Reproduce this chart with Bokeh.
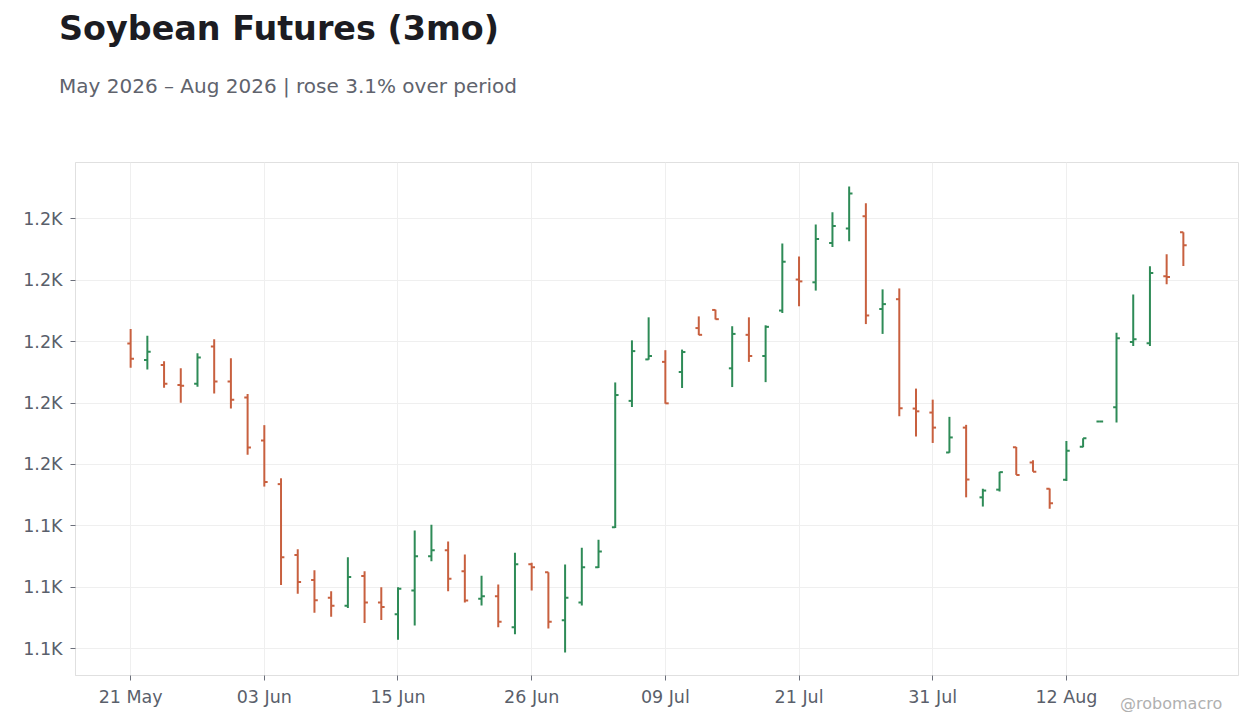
import pandas as pd
from bokeh.plotting import figure
from bokeh.models import ColumnDataSource, FixedTicker, CustomJSTickFormatter, Title
from bokeh.embed import file_html
from bokeh.resources import INLINE

"""daily soybean futures bars, read off the reference chart"""

dates = [
    "2026-05-21", "2026-05-22", "2026-05-26", "2026-05-27", "2026-05-28", "2026-05-29",
    "2026-06-01", "2026-06-02", "2026-06-03", "2026-06-04", "2026-06-05", "2026-06-08",
    "2026-06-09", "2026-06-10", "2026-06-11", "2026-06-12", "2026-06-15", "2026-06-16",
    "2026-06-17", "2026-06-18", "2026-06-22", "2026-06-23", "2026-06-24", "2026-06-25",
    "2026-06-26", "2026-06-29", "2026-06-30", "2026-07-01", "2026-07-02", "2026-07-06",
    "2026-07-07", "2026-07-08", "2026-07-09", "2026-07-10", "2026-07-13", "2026-07-14",
    "2026-07-15", "2026-07-16", "2026-07-17", "2026-07-20", "2026-07-21", "2026-07-22",
    "2026-07-23", "2026-07-24", "2026-07-27", "2026-07-28", "2026-07-29", "2026-07-30",
    "2026-07-31", "2026-08-03", "2026-08-04", "2026-08-05", "2026-08-06", "2026-08-07",
    "2026-08-10", "2026-08-11", "2026-08-12", "2026-08-13", "2026-08-14", "2026-08-17",
    "2026-08-18", "2026-08-19", "2026-08-20", "2026-08-21",
]

opens = [
    1199.4, 1194.0, 1192.4, 1185.9, 1186.3, 1198.4, 1187.0, 1181.8, 1167.8, 1153.6,
    1130.5, 1122.4, 1116.6, 1114.0, 1123.7, 1115.1, 1111.2, 1119.0, 1130.1, 1132.1,
    1125.2, 1116.3, 1117.1, 1107.0, 1127.5, 1124.9, 1109.3, 1115.1, 1126.5, 1139.6,
    1180.7, 1194.2, 1193.4, 1190.1, 1204.4, 1210.3, 1191.3, 1202.2, 1195.3, 1210.1,
    1220.2, 1219.3, 1232.1, 1236.8, 1240.8, 1210.6, 1213.8, 1178.2, 1176.9, 1163.9,
    1172.0, 1149.3, 1151.8, 1165.6, 1160.6, 1152.1, 1155.0, 1165.8, 1174.0, 1178.6,
    1199.9, 1199.5, 1221.3, 1235.6,
]
highs = [
    1204.1, 1201.9, 1193.6, 1191.3, 1196.2, 1200.8, 1194.6, 1182.9, 1172.8, 1155.5,
    1132.4, 1125.6, 1118.7, 1129.8, 1125.2, 1120.0, 1120.0, 1138.5, 1140.4, 1134.9,
    1130.7, 1123.8, 1120.9, 1131.3, 1128.0, 1124.9, 1127.4, 1132.9, 1135.5, 1186.7,
    1200.4, 1207.9, 1197.2, 1197.4, 1208.2, 1210.4, 1205.0, 1207.9, 1205.3, 1231.9,
    1227.7, 1238.1, 1242.1, 1250.5, 1245.0, 1217.0, 1217.3, 1184.7, 1181.1, 1175.5,
    1172.9, 1152.1, 1157.6, 1165.7, 1161.4, 1152.2, 1167.6, 1168.5, 1174.1, 1202.9,
    1215.3, 1224.5, 1228.4, 1235.6,
]
lows = [
    1191.5, 1190.9, 1185.0, 1180.1, 1185.3, 1183.1, 1178.2, 1163.2, 1152.8, 1120.8,
    1117.9, 1111.7, 1110.4, 1113.3, 1108.4, 1109.4, 1102.9, 1107.6, 1128.5, 1118.7,
    1115.1, 1114.1, 1107.0, 1104.7, 1119.0, 1106.6, 1098.8, 1114.1, 1126.3, 1139.3,
    1178.7, 1194.1, 1179.8, 1184.9, 1202.1, 1207.2, 1185.2, 1193.4, 1186.8, 1209.3,
    1211.5, 1216.6, 1230.8, 1232.7, 1205.7, 1202.5, 1175.7, 1169.1, 1167.0, 1163.8,
    1149.3, 1146.3, 1151.2, 1156.6, 1157.6, 1145.6, 1154.6, 1165.6, 1173.9, 1173.7,
    1198.6, 1198.6, 1218.7, 1224.6,
]
closes = [
    1194.4, 1196.7, 1186.3, 1185.6, 1194.8, 1187.0, 1181.1, 1165.5, 1154.3, 1129.8,
    1121.7, 1115.8, 1114.0, 1123.4, 1115.1, 1113.6, 1119.5, 1130.1, 1132.1, 1122.8,
    1115.7, 1117.1, 1108.8, 1127.5, 1126.5, 1108.8, 1116.6, 1126.5, 1131.7, 1182.6,
    1196.9, 1195.3, 1179.9, 1196.6, 1202.2, 1207.3, 1202.5, 1195.3, 1204.8, 1226.0,
    1219.6, 1233.4, 1237.6, 1248.2, 1208.5, 1212.2, 1178.3, 1177.3, 1172.0, 1168.8,
    1155.1, 1151.5, 1157.5, 1156.6, 1157.6, 1147.4, 1164.5, 1168.5, 1174.0, 1201.1,
    1200.8, 1222.3, 1221.0, 1231.4,
]

y_ticks = [1100, 1120, 1140, 1160, 1180, 1200, 1220, 1240]

title = "Soybean Futures (3mo)"
subtitle = "May 2026 – Aug 2026 | rose 3.1% over period"
credit = "@robomacro"

UP = "#2e8b57"
DOWN = "#c8603f"
FONT = "DejaVu Sans"

n = len(dates)
idx = list(range(n))
colors = [UP if c >= o else DOWN for o, c in zip(opens, closes)]
src = ColumnDataSource(dict(
    x=idx, xl=[i - 0.2 for i in idx], xr=[i + 0.2 for i in idx],
    o=opens, h=highs, l=lows, c=closes, color=colors,
))

p = figure(width=1244, height=712, output_backend="svg", toolbar_location=None,
           x_range=(-3.3, 66.3), y_range=(1091.3, 1258.3),
           min_border_left=75, min_border_right=6, min_border_top=162, min_border_bottom=37,
           background_fill_color="white", border_fill_color="white")

p.segment(x0="x", y0="l", x1="x", y1="h", color="color", line_width=2, source=src)
p.segment(x0="xl", y0="o", x1="x", y1="o", color="color", line_width=2, source=src)
p.segment(x0="x", y0="c", x1="xr", y1="c", color="color", line_width=2, source=src)

# x axis: trading-day index, label every 8th session
labels = pd.to_datetime(dates).strftime("%d %b")
x_ticks = idx[::8]
p.xaxis.ticker = FixedTicker(ticks=x_ticks)
p.xaxis.major_label_overrides = {i: labels[i] for i in x_ticks}
p.yaxis.ticker = FixedTicker(ticks=y_ticks)
p.yaxis.formatter = CustomJSTickFormatter(code="return (tick / 1000).toFixed(1) + 'K';")

for ax in (p.xaxis, p.yaxis):
    ax.axis_line_color = "#e0e0e0"
    ax.major_tick_line_color = "#6b6f7a"
    ax.major_tick_out = 5
    ax.major_tick_in = 0
    ax.minor_tick_line_color = None
    ax.major_label_text_font = FONT
    ax.major_label_text_font_size = "17.5px"
    ax.major_label_text_color = "#5a5f6b"
p.yaxis.major_label_standoff = 8
p.xaxis.major_label_standoff = 6

p.grid.grid_line_color = "#efefef"
p.outline_line_color = "#e0e0e0"

# titles stack outward from the frame: spacer, subtitle, then the main title on top
p.add_layout(Title(text=" ", text_font=FONT, text_font_size="10px", standoff=36), "above")
p.add_layout(Title(text=subtitle, align="left", offset=-16.5, standoff=31.6,
                   text_font=FONT, text_font_size="20px", text_font_style="normal",
                   text_color="#60636d"), "above")
p.add_layout(Title(text=title, align="left", offset=-16.5, standoff=14.4,
                   text_font=FONT, text_font_size="33.4px", text_font_style="bold",
                   text_color="#1c1c22"), "above")
p.add_layout(Title(text=credit, align="right", offset=16.3, standoff=-31,
                   vertical_align="top", text_font=FONT, text_font_size="16px",
                   text_font_style="normal", text_color="#b0b0b0"), "below")

open("out.html", "w").write(file_html(p, INLINE))
